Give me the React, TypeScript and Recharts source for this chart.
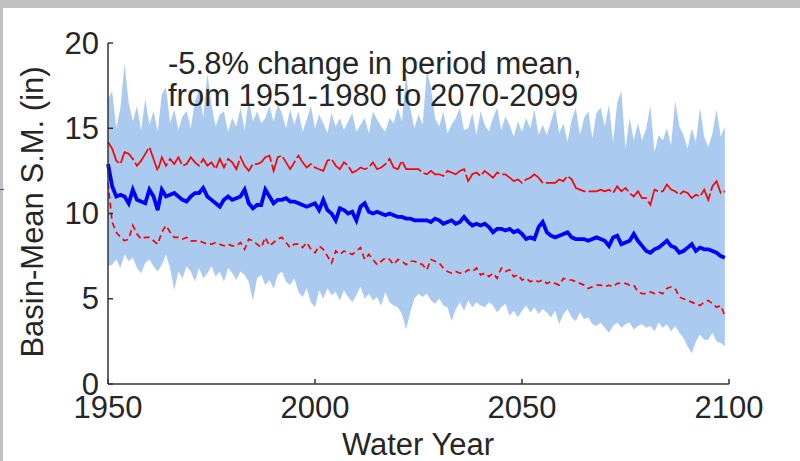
import React from "react";
import { ComposedChart, Area, Line, XAxis, YAxis } from "recharts";

const FIRST_YEAR = 1950;

// ensemble median (thick blue)
const median = [
  12.9, 11.6, 11.0, 11.1, 11.0, 10.6, 11.4, 10.8, 10.7, 10.6,
  11.4, 11.0, 10.2, 11.4, 11.0, 11.1, 11.2, 11.0, 10.8, 10.7,
  11.0, 11.2, 11.2, 11.5, 11.0, 10.8, 10.6, 10.4, 10.8, 11.0,
  10.8, 10.9, 11.0, 11.4, 10.6, 10.3, 10.5, 10.5, 11.4, 11.0,
  10.6, 10.8, 10.8, 10.9, 10.7, 10.7, 10.6, 10.5, 10.4, 10.5,
  10.6, 10.2, 10.8, 10.2, 10.0, 9.6, 10.3, 10.2, 10.0, 10.1,
  9.6, 10.4, 10.6, 10.1, 10.0, 10.1, 10.0, 9.9, 10.0, 9.9,
  9.8, 9.8, 9.7, 9.7, 9.6, 9.6, 9.6, 9.6, 9.5, 9.7,
  9.6, 9.4, 9.5, 9.6, 9.4, 9.5, 9.8, 9.5, 9.3, 9.4,
  9.3, 9.4, 9.2, 8.9, 9.1, 9.1, 9.0, 9.1, 8.9, 9.0,
  8.8, 8.5, 8.6, 8.5, 9.2, 9.5, 8.9, 8.7, 8.6, 8.7,
  8.8, 8.9, 8.6, 8.5, 8.5, 8.5, 8.4, 8.5, 8.6, 8.5,
  8.4, 8.1, 8.6, 8.7, 8.2, 8.3, 8.4, 8.8, 8.4, 8.1,
  7.8, 7.7, 7.9, 8.0, 8.2, 8.4, 8.1, 8.0, 7.7, 7.8,
  8.0, 8.2, 7.8, 8.0, 7.9, 7.9, 7.8, 7.7, 7.5, 7.4,
];

// upper percentile (red)
const upper = [
  14.2, 13.8, 13.1, 12.9, 13.6, 13.5, 13.2, 12.8, 13.1, 13.5,
  13.9, 13.2, 12.5, 13.3, 12.8, 13.2, 12.9, 13.3, 12.8, 12.9,
  13.3, 13.0, 12.8, 13.2, 12.8, 13.0, 12.6, 13.2, 12.7, 13.2,
  13.0, 12.6, 13.3, 12.8, 12.5, 12.9, 12.9, 13.0, 13.3, 13.4,
  12.5, 13.3, 13.4, 13.0, 12.6, 13.0, 13.4, 13.0, 12.7, 12.9,
  12.7, 12.6, 12.5, 13.1, 13.2, 12.8, 12.6, 13.0, 12.8, 12.4,
  12.5, 12.7, 12.6, 12.7, 13.0, 12.6, 12.7, 12.9, 13.2, 12.7,
  12.6, 13.1, 12.6, 12.6, 12.6, 12.6, 12.4, 12.3, 12.5, 12.3,
  12.3, 12.2, 12.5, 12.4, 12.3, 12.5, 12.6, 11.9, 12.3, 12.4,
  12.2, 12.5, 12.3, 12.1, 12.4, 12.3, 12.3, 12.1, 11.9, 12.0,
  11.8, 12.0, 12.1, 12.3, 12.1, 11.8, 11.8, 11.8, 11.8, 12.0,
  11.9, 12.2, 12.0, 11.5, 11.4, 11.3, 11.3, 11.3, 11.3, 11.4,
  11.3, 11.4, 11.2, 11.6, 11.3, 11.5, 11.2, 11.0, 11.3, 10.9,
  10.9, 10.5, 11.4, 11.3, 11.3, 11.7, 11.4, 11.3, 11.1, 11.3,
  11.2, 10.9, 11.1, 11.0, 11.4, 10.8, 11.6, 11.9, 11.2, 11.3,
];

// lower percentile (red dashed)
const lower = [
  11.8, 9.5, 8.9, 8.6, 8.4, 8.5, 9.3, 8.8, 8.5, 8.6,
  8.6, 8.4, 8.2, 8.9, 9.3, 8.9, 8.6, 8.6, 8.5, 8.6,
  8.4, 8.4, 8.4, 8.3, 8.2, 8.2, 8.3, 8.2, 8.1, 8.2,
  8.1, 8.1, 8.3, 7.9, 8.5, 8.4, 8.2, 8.0, 8.6, 8.1,
  8.3, 8.5, 8.6, 8.3, 8.0, 8.2, 8.2, 8.0, 8.3, 7.9,
  7.7, 8.1, 7.9, 7.5, 7.1, 7.8, 7.6, 7.8, 7.7, 7.6,
  7.8, 8.0, 7.3, 7.6, 7.3, 7.0, 7.2, 7.4, 7.3, 7.0,
  7.3, 7.2, 7.0, 7.2, 7.2, 7.1, 7.0, 6.7, 7.3, 7.2,
  7.1, 6.8, 6.6, 6.5, 6.6, 6.5, 6.5, 6.7, 6.6, 6.8,
  6.4, 6.5, 6.3, 6.5, 6.2, 6.8, 6.6, 6.7, 6.3, 6.4,
  6.1, 6.2, 6.0, 6.1, 6.0, 6.1, 5.9, 6.0, 5.9, 5.8,
  6.2, 6.1, 6.1, 6.0, 5.9, 5.8, 5.6, 5.7, 5.8, 5.8,
  5.7, 5.8, 5.7, 5.9, 5.9, 5.9, 5.8, 5.8, 5.4, 5.3,
  5.3, 5.4, 5.3, 5.4, 5.3, 5.6, 5.7, 5.6, 5.1, 5.0,
  4.9, 4.8, 4.7, 4.6, 4.8, 4.9, 4.7, 4.5, 4.6, 4.0,
];

// ensemble max / min per year (light blue spread)
const ensMax = [
  16.7, 17.2, 15.0, 16.2, 18.8, 16.5, 15.4, 16.3, 14.9, 16.7,
  15.2, 16.0, 14.8, 17.0, 17.4, 15.3, 16.1, 14.9, 15.7, 16.0,
  15.0, 16.6, 17.2, 15.6, 18.2, 16.4, 15.1, 15.8, 16.0, 14.8,
  15.6, 15.1, 16.2, 14.9, 16.7, 15.4, 16.0, 15.3, 15.6, 16.3,
  15.4, 16.4, 15.9, 15.0, 16.1, 15.2, 16.0, 14.8, 15.5, 16.3,
  15.0, 15.8, 15.3, 14.7, 15.9, 15.1, 15.6, 14.9, 15.4, 15.9,
  14.8, 15.2, 15.6, 14.7, 16.0, 15.5, 15.1, 14.8, 15.6, 15.3,
  16.2, 15.4, 18.2, 16.2, 15.0, 15.8, 15.2, 18.4, 17.4, 15.6,
  15.1, 16.0, 14.7, 15.2, 15.6, 16.2, 14.9, 15.0, 15.9, 14.6,
  16.0, 15.2, 14.8, 15.6, 16.2, 14.9, 15.7, 15.2, 14.5, 15.4,
  14.8, 15.6, 15.0, 16.1, 14.6, 15.2, 14.6, 15.4, 16.2, 14.7,
  15.3, 14.2, 15.5, 16.2, 14.6, 15.6, 16.0, 14.4, 15.9, 16.2,
  15.1, 16.4, 14.2, 16.5, 17.2, 13.8, 15.6, 14.3, 15.3, 14.3,
  15.0, 16.3, 13.6, 14.6, 14.3, 15.0, 14.0, 16.6, 15.1, 14.6,
  13.8, 15.0, 14.2, 16.2, 14.5, 13.9, 14.7, 16.1, 14.5, 15.1,
];

const ensMin = [
  6.9, 7.0, 7.3, 6.8, 7.6, 7.2, 7.4, 6.8, 6.5, 7.1,
  7.3, 6.9, 6.6, 7.0, 7.6, 6.8, 5.5, 6.6, 6.2, 6.9,
  6.6, 6.0, 6.8, 6.2, 6.5, 6.9, 6.3, 6.6, 6.0, 6.8,
  6.5, 6.1, 6.6, 6.4, 6.0, 4.9, 6.2, 6.4, 5.8, 6.1,
  5.6, 6.4, 6.6, 6.0, 5.8, 6.2, 5.4, 5.1, 5.6, 4.8,
  4.5, 5.5, 5.0, 5.6, 5.2, 5.4, 4.9, 5.5, 5.1, 4.8,
  5.2, 5.7, 5.0, 5.3, 4.9, 5.1, 4.6, 5.4, 4.8, 4.6,
  4.5, 4.1, 3.2, 4.2, 5.0, 5.3, 5.1, 5.3, 4.9, 4.7,
  5.0, 4.6, 4.5, 3.7, 4.4, 4.8, 4.3, 4.9, 4.5, 4.8,
  4.6, 4.5, 4.8, 4.6, 4.2, 4.5, 4.7, 4.0, 4.3, 3.9,
  4.3, 4.6, 4.2, 4.5, 4.1, 4.4, 4.2, 3.9, 4.3, 3.5,
  4.1, 4.4, 3.9, 3.7, 4.2, 3.8, 3.9, 3.5, 3.4, 3.6,
  3.3, 3.0, 3.4, 3.6, 3.3, 3.5, 3.6, 3.2, 3.4, 3.5,
  3.3, 3.4, 3.1, 3.6, 3.3, 3.5, 3.1, 3.4, 3.0, 2.7,
  2.2, 1.8, 2.5, 2.9, 2.6, 2.6, 3.0, 2.5, 2.4, 2.2,
];

const xTicks = [1950, 2000, 2050, 2100];
const yTicks = [0, 5, 10, 15, 20];

const data = median.map((m, i) => ({
  year: FIRST_YEAR + i,
  band: [ensMin[i], ensMax[i]],
  median: m,
  upper: upper[i],
  lower: lower[i],
}));

const FONT = "'Liberation Sans', Arial, Helvetica, sans-serif";
const TXT = "#262626";

const YTick = ({ y, payload }: any) => (
  <text x={99} y={y} textAnchor="end" dominantBaseline="central" fontSize={31} fontFamily={FONT} fill={TXT}>
    {payload.value}
  </text>
);

const XTick = ({ x, payload }: any) => (
  <text x={x} y={418} textAnchor="middle" fontSize={31} fontFamily={FONT} fill={TXT}>
    {payload.value}
  </text>
);

const App = () => {
  return (
    <div style={{ position: "absolute", left: 0, top: 0, width: 800, height: 461, background: "#fff", overflow: "hidden" }}>
      <div style={{ position: "absolute", left: 0, top: 0, width: 800, height: 8, background: "#c0c0c0" }} />
      <div style={{ position: "absolute", left: 0, top: 0, width: 3, height: 461, background: "#c0c0c0" }} />
      <div style={{ position: "absolute", left: 0, top: 189, width: 4, height: 1, background: "#3a5aa8" }} />
      <ComposedChart
        width={800}
        height={461}
        data={data}
        margin={{ top: 43, right: 71, bottom: 0, left: 0 }}
        style={{ position: "absolute", left: 0, top: 0 }}
      >
        <XAxis
          dataKey="year"
          type="number"
          domain={[1950, 2100]}
          ticks={xTicks}
          height={77}
          stroke="#333"
          strokeWidth={1.5}
          tickSize={-5}
          tick={<XTick />}
          label={{
            content: () => (
              <text x={418} y={455} textAnchor="middle" fontSize={31} fontFamily={FONT} fill={TXT}>
                Water Year
              </text>
            ),
          }}
        />
        <YAxis
          type="number"
          domain={[0, 20]}
          ticks={yTicks}
          width={108}
          stroke="#333"
          strokeWidth={1.5}
          tickSize={-5}
          tick={<YTick />}
          label={{
            content: () => (
              <text x={43} y={212} textAnchor="middle" transform="rotate(-90 43 212)" fontSize={31} fontFamily={FONT} fill={TXT}>
                Basin-Mean S.M. (in)
              </text>
            ),
          }}
        />
        <Area dataKey="band" type="linear" stroke="none" fill="#abcaf0" fillOpacity={1} isAnimationActive={false} />
        <Line dataKey="upper" type="linear" stroke="#ff0000" strokeWidth={1.7} strokeDasharray="24 3" dot={false} isAnimationActive={false} />
        <Line dataKey="lower" type="linear" stroke="#ff0000" strokeWidth={1.7} strokeDasharray="6 4" dot={false} isAnimationActive={false} />
        <Line dataKey="median" type="linear" stroke="#0000ff" strokeWidth={3.8} dot={false} isAnimationActive={false} />
      </ComposedChart>
      <svg width={800} height={461} style={{ position: "absolute", left: 0, top: 0, pointerEvents: "none" }}>
        <text x={168} y={74} fontSize={31} fontFamily={FONT} fill={TXT}>
          -5.8% change in period mean,
        </text>
        <text x={168} y={106} fontSize={31} fontFamily={FONT} fill={TXT}>
          from 1951-1980 to 2070-2099
        </text>
      </svg>
    </div>
  );
};

export default App;
